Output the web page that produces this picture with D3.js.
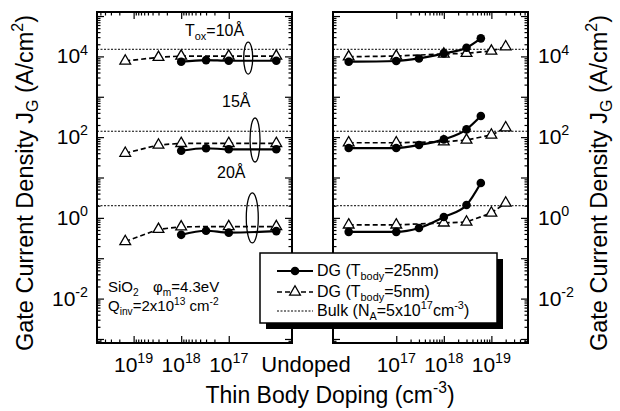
<!DOCTYPE html>
<html>
<head>
<meta charset="utf-8">
<script src="https://cdn.jsdelivr.net/npm/d3@7"></script>
<style>
  body { margin: 0; background: #fff; }
  text { font-family: "Liberation Sans", Arial, sans-serif; fill: #000; }
</style>
</head>
<body>
<div id="app"></div>
<script>
// ---- data ----
const oxideLabels = ["10Å", "15Å", "20Å"];
const bulkJ = [1.5e4, 140, 2];               // bulk, NA = 5e17
const yTickExp = [4, 2, 0, -2];
const xTickExp = [17, 18, 19];

// left panel (reversed doping axis)
const leftDoping25 = [1e18, 3e17, 1e17, 1e16];
const leftDoping5 = [1.5e19, 3e18, 1e18, 1e17, 1e16];
const leftJ25 = [
  [7.4e3, 8.1e3, 7.8e3, 7.8e3],
  [46, 53, 50, 50],
  [0.38, 0.48, 0.43, 0.47]
];
const leftJ5 = [
  [7.7e3, 9.5e3, 1.02e4, 1.02e4, 1.02e4],
  [40, 64, 70, 70, 70],
  [0.26, 0.52, 0.60, 0.61, 0.61]
];

// right panel
const rightDoping25 = [1e16, 1e17, 3e17, 1e18, 3e18, 6e18];
const rightDoping5 = [1e16, 1e17, 1e18, 3e18, 1e19, 2e19];
const rightJ25 = [
  [7.4e3, 7.7e3, 8.9e3, 1.19e4, 1.64e4, 2.8e4],
  [53.7, 53.7, 63.7, 88, 156, 333],
  [0.45, 0.45, 0.56, 1.05, 2.09, 7.3]
];
const rightJ5 = [
  [9.8e3, 1.02e4, 1.15e4, 1.19e4, 1.36e4, 1.74e4],
  [72.6, 72.6, 76.9, 84.7, 113, 171],
  [0.67, 0.67, 0.75, 0.79, 1.32, 2.34]
];

// oxide-group ellipses on the left panel
const ellipseDoping = [3.9e16, 2.8e16, 3.2e16];
const ellipseJ = [9.1e3, 85, 1.0];

// ---- layout ----
const W = 620, H = 411;
const plotTop = 12, plotBottom = 343;
const font = 21;

const svg = d3.select("#app").append("svg")
  .attr("width", W)
  .attr("height", H);

const y = d3.scaleLog().domain([10 ** -3.1, 10 ** 5.1]).range([plotBottom, plotTop]);
const xL = d3.scaleLog().domain([10 ** 19.77, 10 ** 15.67]).range([97, 292]);
const xR = d3.scaleLog().domain([10 ** 15.67, 10 ** 19.77]).range([333, 528]);

// text with sub/superscripts
function rich(sel, parts, size, subShift = 0.28) {
  let shift = 0;
  parts.forEach(p => {
    const [t, kind] = Array.isArray(p) ? p : [p, null];
    const target = kind === "sup" ? -size * 0.42 : kind === "sub" ? size * subShift : 0;
    const ts = sel.append("tspan").text(t).attr("dy", target - shift);
    if (kind) ts.attr("font-size", size * 0.68);
    shift = target;
  });
  return sel;
}

// ticks
const majorY = d3.range(-3, 6).map(e => 10 ** e);
const minorY = [];
d3.range(-4, 6).forEach(e => d3.range(2, 10).forEach(k => {
  const v = k * 10 ** e;
  if (v > y.domain()[0] && v < y.domain()[1]) minorY.push(v);
}));
const majorX = xTickExp.map(e => 10 ** e);
const minorX = [];
d3.range(17, 20).forEach(e => d3.range(2, 10).forEach(k => {
  const v = k * 10 ** e;
  if (v < 10 ** 19.77) minorX.push(v);
}));

const panels = [
  { x: xL, d25: leftDoping25, j25: leftJ25, d5: leftDoping5, j5: leftJ5 },
  { x: xR, d25: rightDoping25, j25: rightJ25, d5: rightDoping5, j5: rightJ5 }
];

const triangle = d3.symbol(d3.symbolTriangle, 50);

panels.forEach(p => {
  const g = svg.append("g");
  const [x0, x1] = p.x.range();

  // bulk reference lines
  g.selectAll(".bulk").data(bulkJ).join("line")
    .attr("x1", x0).attr("x2", x1)
    .attr("y1", d => y(d)).attr("y2", d => y(d))
    .attr("stroke", "#000").attr("stroke-width", 1)
    .attr("stroke-dasharray", "2,1.5");

  // ticks on all four sides, pointing in
  const addAxis = (axis, tr) => {
    const a = g.append("g").attr("transform", tr).call(axis);
    a.select(".domain").remove();
    a.selectAll("line").attr("stroke-width", 1.2);
  };
  [[majorX, 7], [minorX, 3.5]].forEach(([vals, len]) => {
    addAxis(d3.axisBottom(p.x).tickValues(vals).tickSize(-len).tickFormat(""), `translate(0,${plotBottom})`);
    addAxis(d3.axisTop(p.x).tickValues(vals).tickSize(-len).tickFormat(""), `translate(0,${plotTop})`);
  });
  [[majorY, 7], [minorY, 3.5]].forEach(([vals, len]) => {
    addAxis(d3.axisLeft(y).tickValues(vals).tickSize(-len).tickFormat(""), `translate(${x0},0)`);
    addAxis(d3.axisRight(y).tickValues(vals).tickSize(-len).tickFormat(""), `translate(${x1},0)`);
  });

  g.append("rect")
    .attr("x", x0).attr("y", plotTop)
    .attr("width", x1 - x0).attr("height", plotBottom - plotTop)
    .attr("fill", "none").attr("stroke", "#000").attr("stroke-width", 2);

  // data series
  const solid = d3.line().x(d => d[0]).y(d => d[1]).curve(d3.curveMonotoneX);
  const dashed = d3.line().x(d => d[0]).y(d => d[1]);

  p.j5.forEach(js => {
    const pts = p.d5.map((d, i) => [p.x(d), y(js[i])]).sort((a, b) => a[0] - b[0]);
    g.append("path").attr("d", dashed(pts))
      .attr("fill", "none").attr("stroke", "#000")
      .attr("stroke-width", 1.7).attr("stroke-dasharray", "5,3");
    g.selectAll(null).data(pts).join("path")
      .attr("d", triangle)
      .attr("transform", d => `translate(${d[0]},${d[1]})`)
      .attr("fill", "#fff").attr("stroke", "#000").attr("stroke-width", 1.3);
  });

  p.j25.forEach(js => {
    const pts = p.d25.map((d, i) => [p.x(d), y(js[i])]).sort((a, b) => a[0] - b[0]);
    g.append("path").attr("d", solid(pts))
      .attr("fill", "none").attr("stroke", "#000").attr("stroke-width", 2.2);
    g.selectAll(null).data(pts).join("circle")
      .attr("cx", d => d[0]).attr("cy", d => d[1])
      .attr("r", 4.3).attr("fill", "#000");
  });
});

// ellipses marking oxide groups
svg.selectAll(".ell").data(ellipseDoping).join("ellipse")
  .attr("cx", d => xL(d))
  .attr("cy", (d, i) => y(ellipseJ[i]))
  .attr("rx", (d, i) => [4.5, 5, 6][i])
  .attr("ry", (d, i) => [16, 22, 25][i])
  .attr("fill", "none").attr("stroke", "#000").attr("stroke-width", 1.3);

// oxide thickness labels
rich(svg.append("text").attr("x", 185).attr("y", 36).attr("font-size", 16),
  ["T", ["ox", "sub"], ["=" + oxideLabels[0], null]], 16);
svg.append("text").attr("x", 222).attr("y", 107).attr("font-size", 16).text(oxideLabels[1]);
svg.append("text").attr("x", 217).attr("y", 178).attr("font-size", 16).text(oxideLabels[2]);

// device parameters
rich(svg.append("text").attr("x", 108).attr("y", 292).attr("font-size", 15),
  ["SiO", ["2", "sub"]], 15);
rich(svg.append("text").attr("x", 153).attr("y", 292).attr("font-size", 15),
  ["φ", ["m", "sub"], "=4.3eV"], 15);
rich(svg.append("text").attr("x", 108).attr("y", 311).attr("font-size", 15),
  ["Q", ["inv", "sub"], "=2x10", ["13", "sup"], " cm", ["-2", "sup"]], 15);

// y tick labels
yTickExp.forEach(e => {
  rich(svg.append("text").attr("x", 88).attr("y", y(10 ** e) + 7)
    .attr("font-size", font).attr("text-anchor", "end"), ["10", [String(e), "sup"]], font);
  rich(svg.append("text").attr("x", 538).attr("y", y(10 ** e) + 7)
    .attr("font-size", font), ["10", [String(e), "sup"]], font);
});

// x tick labels
[xL, xR].forEach(x => xTickExp.forEach(e => {
  rich(svg.append("text").attr("x", x(10 ** e)).attr("y", 372)
    .attr("font-size", font).attr("text-anchor", "middle"), ["10", [String(e), "sup"]], font);
}));
svg.append("text").attr("x", 306).attr("y", 372)
  .attr("font-size", 22).attr("text-anchor", "middle").text("Undoped");

// axis titles
rich(svg.append("text").attr("transform", "translate(330,403)")
  .attr("font-size", 23).attr("text-anchor", "middle"),
  ["Thin Body Doping (cm", ["-3", "sup"], ")"], 23);
[[33, 183], [607, 183]].forEach(([tx, ty]) => {
  rich(svg.append("text").attr("transform", `translate(${tx},${ty}) rotate(-90)`)
    .attr("font-size", 23.5).attr("text-anchor", "middle"),
    ["Gate Current Density J", ["G", "sub"], " (A/cm", ["2", "sup"], ")"], 23.5, 0.2);
});

// legend
const lg = svg.append("g");
lg.append("rect").attr("x", 266).attr("y", 259).attr("width", 237).attr("height", 70).attr("fill", "#000");
lg.append("rect").attr("x", 260).attr("y", 253).attr("width", 237).attr("height", 70)
  .attr("fill", "#fff").attr("stroke", "#000").attr("stroke-width", 1.5);

const rows = [271, 292, 311];
lg.append("line").attr("x1", 277).attr("x2", 313).attr("y1", rows[0]).attr("y2", rows[0])
  .attr("stroke", "#000").attr("stroke-width", 2.2);
lg.append("circle").attr("cx", 295).attr("cy", rows[0]).attr("r", 4.3);
lg.append("line").attr("x1", 277).attr("x2", 313).attr("y1", rows[1]).attr("y2", rows[1])
  .attr("stroke", "#000").attr("stroke-width", 1.7).attr("stroke-dasharray", "5,3");
lg.append("path").attr("d", triangle).attr("transform", `translate(295,${rows[1]})`)
  .attr("fill", "#fff").attr("stroke", "#000").attr("stroke-width", 1.3);
lg.append("line").attr("x1", 277).attr("x2", 313).attr("y1", rows[2]).attr("y2", rows[2])
  .attr("stroke", "#000").attr("stroke-width", 1).attr("stroke-dasharray", "2,1.5");

const lf = 16;
rich(lg.append("text").attr("x", 317).attr("y", rows[0] + 5).attr("font-size", lf),
  ["DG (T", ["body", "sub"], "=25nm)"], lf);
rich(lg.append("text").attr("x", 317).attr("y", rows[1] + 5).attr("font-size", lf),
  ["DG (T", ["body", "sub"], "=5nm)"], lf);
rich(lg.append("text").attr("x", 317).attr("y", rows[2] + 5).attr("font-size", lf),
  ["Bulk (N", ["A", "sub"], "=5x10", ["17", "sup"], "cm", ["-3", "sup"], ")"], lf);
</script>
</body>
</html>
